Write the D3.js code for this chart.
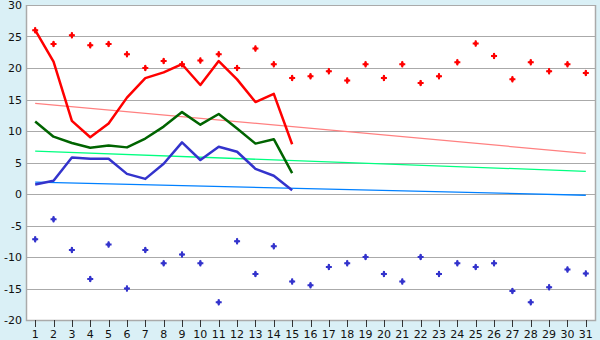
<!DOCTYPE html>
<html lang="en">
<head>
<meta charset="utf-8">
<script src="https://d3js.org/d3.v7.min.js"></script>
<style>
  body { margin: 0; background: #daf0f6; }
  .tick-label { font-family: "DejaVu Sans", sans-serif; font-size: 11px; fill: #111; }
</style>
</head>
<body>
<div id="chart"></div>
<script>
// days along the x axis
const days = d3.range(1, 32);

// scattered daily values
const highPoints = [26.0, 23.8, 25.2, 23.6, 23.8, 22.2, 20.0, 21.1, 20.6, 21.2, 22.2, 20.0, 23.1, 20.6, 18.4,
  18.7, 19.5, 18.0, 20.6, 18.4, 20.6, 17.6, 18.7, 20.9, 23.9, 21.9, 18.2, 20.9, 19.5, 20.6, 19.2];
const lowPoints = [-7.2, -4.0, -8.9, -13.5, -8.0, -15.0, -8.9, -11.0, -9.6, -11.0, -17.2, -7.5, -12.7, -8.3, -13.9,
  -14.5, -11.6, -11.0, -10.0, -12.7, -13.9, -10.0, -12.7, -11.0, -11.6, -11.0, -15.4, -17.2, -14.8, -12.0, -12.6];

// lines for days 1-15
const redLine = [26.0, 21.0, 11.6, 9.0, 11.2, 15.3, 18.4, 19.3, 20.6, 17.3, 21.1, 18.2, 14.6, 15.9, 7.9];
const greenLine = [11.5, 9.1, 8.1, 7.35, 7.7, 7.4, 8.8, 10.7, 13.0, 11.0, 12.7, 10.4, 8.0, 8.7, 3.3];
const blueLine = [1.5, 2.1, 5.8, 5.6, 5.6, 3.2, 2.4, 4.8, 8.2, 5.4, 7.5, 6.7, 4.0, 2.9, 0.6];

// trend lines: [value at day 1, value at day 31]
const redTrend = [14.4, 6.45];
const greenTrend = [6.8, 3.6];
const blueTrend = [1.9, -0.2];

const yTicks = d3.range(-20, 31, 5);

const width = 600, height = 340;
const plot = { left: 26, right: 595, top: 5, bottom: 320 };

const svg = d3.select("#chart").append("svg")
  .attr("width", width)
  .attr("height", height);

svg.append("rect")
  .attr("width", width).attr("height", height)
  .attr("fill", "#daf0f6");

const x = d3.scaleLinear().domain([0.5, 31.5]).range([plot.left, plot.right]);
const y = d3.scaleLinear().domain([-20, 30]).range([plot.bottom, plot.top]);

// white plot area
svg.append("rect")
  .attr("x", plot.left).attr("y", plot.top)
  .attr("width", plot.right - plot.left).attr("height", plot.bottom - plot.top)
  .attr("fill", "white");

// horizontal grid
svg.append("g")
  .selectAll("line")
  .data(yTicks)
  .join("line")
  .attr("x1", plot.left).attr("x2", plot.right)
  .attr("y1", d => Math.round(y(d)) + 0.5).attr("y2", d => Math.round(y(d)) + 0.5)
  .attr("stroke", "#aaaaaa").attr("stroke-width", 1);

// frame (left, right, bottom)
svg.append("path")
  .attr("d", `M${plot.left + 0.5},${plot.top}V${plot.bottom + 0.5}H${plot.right + 0.5}V${plot.top}`)
  .attr("fill", "none").attr("stroke", "#aaaaaa").attr("stroke-width", 1.5);

// y labels
svg.append("g")
  .selectAll("text")
  .data(yTicks)
  .join("text")
  .attr("class", "tick-label")
  .attr("x", 22)
  .attr("y", d => y(d) + 4)
  .attr("text-anchor", "end")
  .text(d => d);

// x ticks + labels
const xAxis = svg.append("g");
xAxis.selectAll("line")
  .data(days)
  .join("line")
  .attr("x1", d => Math.round(x(d)) + 0.5).attr("x2", d => Math.round(x(d)) + 0.5)
  .attr("y1", plot.bottom).attr("y2", plot.bottom + 7)
  .attr("stroke", "#333").attr("stroke-width", 1);
xAxis.selectAll("text")
  .data(days)
  .join("text")
  .attr("class", "tick-label")
  .attr("x", d => x(d))
  .attr("y", 338)
  .attr("text-anchor", "middle")
  .text(d => d);

// trend lines
const trends = [
  { v: redTrend, color: "#ff8080" },
  { v: greenTrend, color: "#00ff80" },
  { v: blueTrend, color: "#0080ff" }
];
svg.append("g")
  .selectAll("line")
  .data(trends)
  .join("line")
  .attr("x1", x(1)).attr("x2", x(31))
  .attr("y1", d => y(d.v[0])).attr("y2", d => y(d.v[1]))
  .attr("stroke", d => d.color).attr("stroke-width", 1.3);

// day lines
const line = d3.line().x((d, i) => x(days[i])).y(d => y(d));
const series = [
  { v: redLine, color: "#ff0000" },
  { v: greenLine, color: "#006400" },
  { v: blueLine, color: "#3333cc" }
];
svg.append("g")
  .selectAll("path")
  .data(series)
  .join("path")
  .attr("d", d => line(d.v))
  .attr("fill", "none")
  .attr("stroke", d => d.color)
  .attr("stroke-width", 2.5)
  .attr("stroke-linejoin", "round");

// scatter markers: small plus with a filled centre
const marker = d3.symbol().type(d3.symbolCross).size(20);
const core = d3.symbol().type(d3.symbolDiamond).size(14);
function drawPoints(values, color) {
  const g = svg.append("g")
    .selectAll("g")
    .data(values)
    .join("g")
    .attr("transform", (d, i) => `translate(${x(days[i])},${y(d)})`)
    .attr("fill", color);
  g.append("path").attr("d", marker);
  g.append("path").attr("d", core);
}
drawPoints(highPoints, "#ff0000");
drawPoints(lowPoints, "#3333cc");
</script>
</body>
</html>
